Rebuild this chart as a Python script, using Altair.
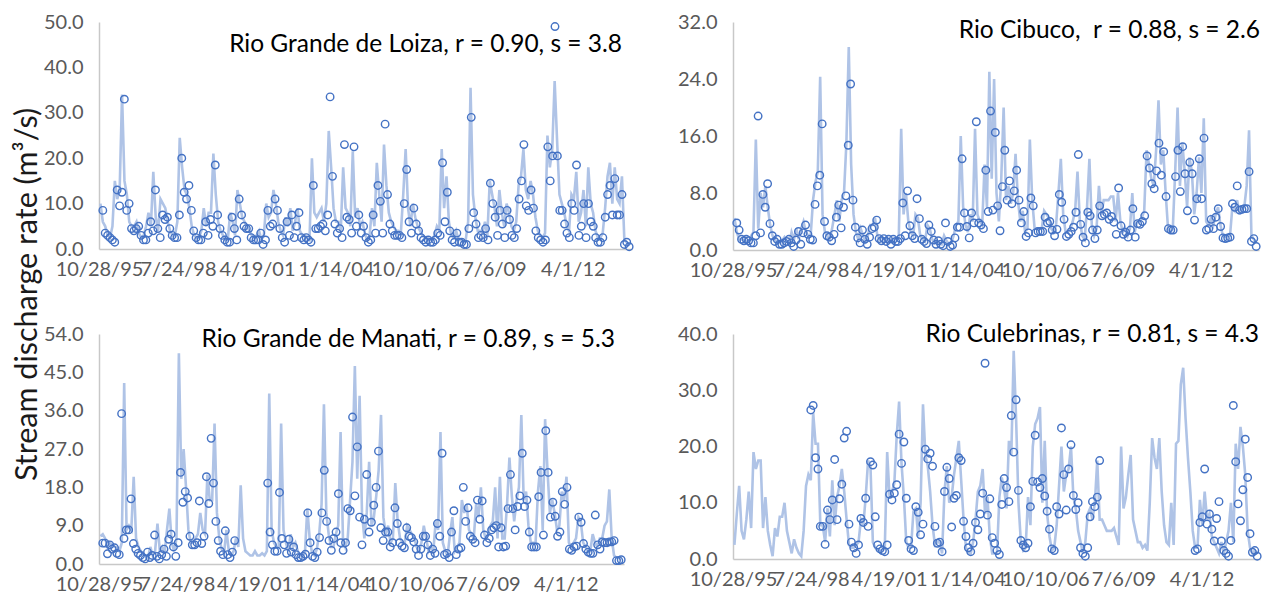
import altair as alt
import pandas as pd

START = "1995-11-15"
END = "2014-03-15"
X_MIN = "1995-10-28"
X_MAX = "2014-04-20"
tick_labels = ["10/28/95", "7/24/98", "4/19/01", "1/14/04", "10/10/06", "7/6/09", "4/1/12"]
y_title = "Stream discharge rate (m³/s)"

titles = [
    "Rio Grande de Loiza, r = 0.90, s = 3.8",
    "Rio Cibuco,\u00a0 r = 0.88, s = 2.6",
    "Rio Grande de Manati, r = 0.89, s = 5.3",
    "Rio Culebrinas, r = 0.81, s = 4.3",
]
y_ticks = [
    [0, 10, 20, 30, 40, 50],
    [0, 8, 16, 24, 32],
    [0, 9, 18, 27, 36, 45, 54],
    [0, 10, 20, 30, 40],
]

loiza_line = [
    10, 6,
    5, 3, 2.5, 5, 15, 11, 13, 34, 15, 12, 6, 5,
    5, 6, 3.5, 2.5, 3, 5, 8, 5, 17, 7, 4, 11,
    10, 9, 6, 4, 3, 3, 6, 24.5, 18, 13, 12, 9,
    5, 3, 2.5, 2.5, 4, 9, 5, 8, 8, 21, 12, 6,
    4, 3, 2, 2, 8, 6, 3, 13, 10, 7, 6, 5,
    4, 3, 2.5, 3, 4, 2, 3, 10, 7, 8, 13, 10,
    6, 4, 3, 7, 5, 9, 4, 6, 9, 4, 3, 3,
    2.5, 2, 20, 8, 7, 8, 9, 6, 10, 26, 18, 9,
    6, 6, 4, 18, 9, 8, 5, 21.5, 7, 9, 5, 6,
    3.5, 2, 3, 9, 5, 19, 12, 6, 23, 14, 8, 6,
    5, 4, 4, 3.5, 12, 22, 9, 5, 10, 7, 5, 4,
    3, 2.5, 2.5, 2, 2, 3, 5, 4, 22, 9, 16, 6,
    3, 2.5, 4, 2, 2, 1.5, 2, 6, 35.5, 12, 7, 4,
    4, 3.5, 6, 3, 15, 12, 9, 5, 13, 8, 5, 10,
    8, 5, 4, 6, 14, 16, 22, 13, 11, 15, 12, 7,
    4, 3, 2.5, 3.5, 25, 18, 22, 37, 24, 12, 10, 8,
    5, 4, 12, 11, 17, 6, 8, 13, 5, 18, 10, 8,
    4, 2.5, 2.5, 3.5, 9, 16, 19, 10, 18, 11, 10, 16,
    2, 1.5, 1,
]
loiza_pts = [
    None, 8.5, 3.5,
    3, 2.5, 2, 1.5, 13, 9.5, 12.5, 33, 8.5, 10, 4.5, 4,
    4.5, 5, 3, 2, 2, 3.5, 6, 4, 13, 4.5, 2.5, 7.5,
    6.5, 7, 4.5, 3, 2.5, 2.5, 7.5, 20, 12.5, 11, 14, 8.5,
    4, 2.5, 2, 2, 3.5, 6, 3, 6.5, 5, 18.5, 7.5, 4.5,
    3, 2, 1.5, 1.5, 7, 4.5, 2, 11, 7.5, 5, 4.5, 4.5,
    2.5, 2, 2, 2, 3.5, 1, 2, 8.5, 5, 5.5, 11, 8.5,
    4.5, 2.5, 1.5, 6, 3, 7.5, 2.5, 5, 8, 2.5, 2, 2.5,
    2, 1.5, 14, 4.5, 4.5, 5, 5.5, 4, 7.5, 33.5, 16, 5.5,
    3.5, 4.5, 2.5, 23, 7, 6.5, 3.5, 22.5, 5, 7.5, 3.5, 5,
    2.5, 1.5, 2, 7.5, 3.5, 14, 10.5, 3.5, 27.5, 12, 5.5, 4,
    3, 3, 3, 2.5, 10, 17.5, 6, 3.5, 9, 5.5, 4, 2.5,
    2, 1.5, 2, 1.5, 1.5, 2, 3.5, 3, 19, 6, 12.5, 4,
    2, 1.5, 3.5, 1.5, 1.5, 1, 1, 4.5, 29, 8, 5.5, 2.5,
    3, 2.5, 4.5, 2, 14.5, 10, 7, 3, 8.5, 5.5, 2.5, 8.5,
    6.5, 3, 2.5, 4.5, 11, 15, 23, 9.5, 8.5, 13, 9, 4,
    2.5, 2, 1.5, 2, 22.5, 15, 20.5, 49, 20.5, 8.5, 8.5, 5.5,
    3.5, 2.5, 10, 8.5, 18.5, 3, 5, 10, 2.5, 10, 6, 5,
    2.5, 1.5, 1.5, 2.5, 7, 12, 14, 7.5, 15.5, 7.5, 7.5, 12,
    1, 1.5, 0.5,
]

cibuco_line = [
    4.5, 2.5,
    1.5, 1.5, 1.3, 1.2, 1.2, 2.0, 2.5, 15.5, 3, 8, 6, 9,
    6, 3.5, 2, 1.5, 1, 1, 1.3, 1.8, 1.2, 0.8, 2.5, 1.5,
    3, 1.5, 3, 4, 2.5, 2, 2, 7, 9.5, 11, 24.3, 5,
    2.5, 2, 1.5, 3, 5, 7, 4, 7, 8, 15, 28.5, 12,
    5, 2.5, 1.5, 3, 2, 1.2, 2, 3.5, 3.5, 4.5, 2, 1.5,
    1.8, 1.5, 1.5, 1.2, 1.5, 1.5, 1.5, 2, 17, 5, 8, 4,
    2.5, 2, 5, 4.5, 2, 1.5, 1.2, 3.5, 3, 1.5, 1, 1.3,
    1, 0.8, 2, 1.3, 0.8, 1, 2, 3.5, 4, 16, 6, 3.5,
    2.5, 5, 4, 17, 5, 4, 3.5, 12, 6, 25, 10, 24,
    8, 4, 10, 20, 7, 9, 6.5, 8, 13.5, 7, 4, 5.5,
    2.5, 3, 15.5, 7, 3, 3, 3, 3, 5.5, 5, 4.5, 3,
    2.5, 3.5, 8, 12.8, 5, 2.5, 2.5, 3, 4, 5.5, 11, 4,
    2, 1.5, 6, 12.8, 3.5, 2, 3, 9, 5, 7, 7, 7,
    7.5, 7.5, 4, 8, 4, 2.5, 3, 2, 3, 8, 2.5, 4,
    4, 4.5, 5.5, 14, 12, 10, 9, 14, 21, 12, 14, 8,
    3, 2.5, 3, 11, 20, 9, 15, 11, 6, 13, 11, 5,
    8, 13, 8, 18.5, 4, 3.5, 4.5, 3.5, 5, 6, 3.5, 2,
    1.8, 2, 2, 6, 5.5, 7, 5, 6, 6, 9, 16.8, 2,
    1.5, 1,
]
cibuco_pts = [
    None, 3.8, 2.8,
    1.5, 1.3, 1.5, 1.3, 1.0, 1.0, 2.0, 18.8, 2.4, 7.8, 6.0, 9.3,
    3.7, 2.0, 1.2, 1.5, 0.8, 0.8, 1.0, 1.2, 1.5, 1.0, 0.5, 1.4,
    2.6, 0.8, 2.4, 3.5, 2.2, 1.5, 1.4, 6.4, 9.0, 10.5, 17.7, 4.0,
    2.0, 1.8, 1.3, 2.2, 4.6, 6.3, 3.1, 6.0, 7.6, 14.7, 23.3, 7.0,
    3.2, 1.7, 1.0, 2.8, 1.5, 0.8, 1.8, 3.0, 3.2, 4.2, 1.6, 1.3,
    1.6, 1.2, 1.5, 0.8, 1.5, 1.2, 1.2, 1.6, 6.6, 2.0, 8.3, 3.4,
    2.0, 1.6, 7.2, 4.4, 1.5, 1.2, 0.9, 3.5, 2.6, 1.4, 0.8, 1.3,
    0.8, 0.6, 3.8, 1.2, 0.5, 0.7, 1.7, 3.2, 3.2, 12.8, 5.2, 3.3,
    1.7, 5.2, 3.8, 18.0, 3.8, 3.5, 3.0, 11.2, 5.4, 19.5, 5.6, 16.5,
    6.2, 2.7, 8.9, 14.0, 7.0, 9.7, 6.5, 8.3, 11.2, 7.0, 3.8, 5.4,
    1.9, 2.4, 7.3, 6.2, 2.4, 2.6, 2.6, 2.6, 4.6, 3.8, 4.0, 2.8,
    2.0, 2.9, 7.8, 6.7, 4.3, 1.9, 2.2, 2.6, 3.2, 5.3, 13.4, 3.6,
    1.8, 1.0, 5.3, 4.8, 2.8, 1.6, 2.8, 6.2, 4.8, 5.0, 5.2, 4.3,
    4.7, 3.9, 2.2, 8.7, 3.4, 2.2, 2.5, 1.8, 2.8, 5.8, 1.8, 3.7,
    3.6, 4.0, 4.8, 13.2, 11.5, 9.3, 8.6, 11.1, 15.0, 10.5, 13.8, 7.5,
    3.0, 2.8, 2.8, 10.3, 14.0, 8.2, 14.5, 10.7, 5.5, 12.3, 10.7, 4.2,
    7.2, 12.8, 7.2, 15.7, 2.8, 3.0, 4.3, 3.0, 4.6, 5.8, 3.3, 1.7,
    1.6, 1.7, 1.8, 6.5, 6.0, 9.0, 5.6, 5.7, 5.8, 5.8, 11.0, 1.2,
    1.6, 0.5,
]

manati_line = [
    6.5, 7,
    6, 4, 5, 4.5, 4, 4, 3, 5, 42.5, 8, 9, 8,
    20.5, 6, 4, 3, 2.5, 2, 1.5, 4, 2, 3, 9.5, 3,
    4, 2.5, 8, 13, 5, 3, 6, 49.5, 20, 27, 18, 8,
    5, 5, 6, 7, 12, 8, 7, 21, 15, 15, 33, 12,
    6, 3.5, 2.5, 8, 3, 2, 3, 6, 4, 18.5, 6, 3,
    2.5, 2, 2, 3, 2, 2, 2.5, 2, 3, 40, 8, 5,
    4, 4, 33, 8, 5, 3, 7, 4, 5, 3, 2, 2,
    2.5, 13, 6, 2.5, 2, 3.5, 7, 14, 37.5, 12, 7, 4,
    4, 7, 9, 31, 6, 4, 6, 15, 24, 46.5, 20, 39.5,
    12, 6, 12, 24, 9, 11, 16, 22, 35, 11, 7, 9,
    5, 6, 19, 10, 6, 5, 5, 9, 8, 7, 6, 4,
    3, 5, 9, 6, 3, 4, 3, 10, 8, 31, 5, 3,
    2, 7, 11, 3, 4, 5, 15, 12, 14, 8, 7, 6,
    14, 11, 18, 8, 6, 7, 9, 10, 18, 6, 20.5, 6,
    6, 14, 25, 16, 10, 15, 18, 35, 15, 17, 9, 5,
    5, 5, 17, 23, 8, 34, 22, 12, 15, 12, 8, 9,
    17, 15, 20.5, 5, 4, 5, 6, 11, 10, 5, 4, 3,
    3, 7, 5, 4, 6, 6, 9, 10, 17.5, 6, 2, 1.5,
    1.5, 1,
]
manati_pts_a = [
    4.9, 4.9, 2.4, 4.5, 3.5, 3.8, 2.5, 2.2, 35.3, 6, 8, 8, 15.3, 4.8, 3.5, 2.5, 2, 1.5, 1.2, 2.8,
    1.5, 2, 6.8, 1.8, 1.2, 2.2, 3.5, 1.8, 5.8, 7, 4, 1.8, 5, 21.5, 14.5, 17, 15.5, 6.5, 4.5, 4.5,
    5, 14.8, 4.8, 6.5, 20.5, 14.2, 29.5, 19, 10, 5.5, 3, 2.2, 7.8, 2.2, 1.5, 2.8, 5.5,
]
manati_pts_b = [
    19, 7.5, 4.5, 3, 3, 16.8, 6, 4.5, 2.5, 5.8, 2.8, 4, 2.2, 1.5, 1.5, 1.8, 2.3, 12, 5, 1.8,
    1.5, 2.8, 6.2, 12, 22, 10, 5.5, 3.2, 6, 7.5, 16.5, 5, 3.2, 5, 13, 12.5, 34.5, 16, 27.5, 11,
    4.5, 10.5, 21, 7.5, 9.8, 13.8, 18, 26.5, 8.5, 5.5, 7.5, 7.5, 4, 5, 13.2, 9.5, 5, 4.2, 3.8, 8.5,
    6.5, 6.2, 5.2, 3.5, 2, 3.5, 6.5, 6.5, 4.5, 2, 3.5, 2.5, 9.5, 6.5, 26, 2.2, 2.5, 1.5, 7.5, 12.5,
    2.2, 3.5, 3.8, 18, 10, 13.2, 6.5, 5.8, 5, 15, 10.5, 14.8, 6.8, 5, 6, 8, 8.5, 9, 4, 8.5,
    4, 4.2, 13, 21, 13, 8, 13.5, 16, 26, 13.5, 15, 7.5, 4, 4, 4, 15.8, 21.5, 6.8, 31.3, 21.5,
    11, 14.5, 11.2, 6.5, 7.5, 17, 14, 18, 3.5, 3.2, 4, 4.2, 11, 9.8, 4.8, 3.5, 2.8, 2.5, 2.5, 11.5,
    4.5, 3.5, 5.2, 5, 5, 5.2, 5.2, 5.5, 0.8, 0.8, 1,
]
manati_pts = [None] + manati_pts_a + [None] * 13 + manati_pts_b

culebrinas_line = [
    2.5, 8,
    13, 5, 3.5, 7, 12, 5.5, 19, 16, 17.5, 17.5, 5.5, 11,
    5, 2.5, 0.5, 5.5, 4, 7.5, 7.5, 10, 5, 3, 1, 3.5,
    2, 1, 0.5, 5, 13, 15, 14, 26, 20.5, 20.5, 6, 6,
    3, 9, 4, 14, 6, 11, 13, 16, 12, 7, 2.5, 2,
    2, 2.5, 3, 7, 6, 11, 17.5, 16.5, 3, 2, 1.5, 1.5,
    1.5, 2, 19, 11, 12, 13.5, 22, 28, 17, 11, 3, 2,
    2, 8.5, 9, 4, 10, 27.5, 18.5, 16.5, 12, 6, 2.5, 3,
    3, 1, 12, 16.5, 10, 11, 15, 18, 21, 14, 7, 2,
    1, 1, 3, 7, 12, 13, 16, 8, 11, 4, 1, 1,
    1, 11, 14.5, 12.5, 9, 21, 18.5, 37, 25, 10, 3, 1.5,
    2, 11, 6, 20, 24, 25, 27, 10, 21, 8, 4, 1.5,
    2, 6, 13, 20, 12, 15, 16, 20, 11, 9, 5, 3,
    1, 3, 8, 9, 7, 10, 17.5, 7, 7, 6, 5, 5,
    5, 5.5, 4, 2.5, 20, 9, 11, 15, 18.5, 7, 5, 3,
    3, 2, 2.5, 1.5, 10, 21.5, 18, 16, 21.5, 12, 6, 3,
    2.5, 10, 2.5, 20.5, 21, 31, 34, 25, 18, 12, 5, 2,
    2, 10.5, 6, 12, 7, 8, 4, 3, 2, 1, 3, 1,
    3, 5, 10, 3, 20.5, 16, 23.5, 20, 15, 5, 2, 1,
    1.5, 1,
]
culebrinas_pts_a = [
    26.5, 27.3, 18, 16, 5.8, 5.8, 2.6, 8.7, 7, 10.5, 17.7, 7, 10.7, 13.3, 21.5, 22.7, 6.2, 3, 2, 1,
    2.5, 7.2, 6.5, 10.8, 5.8, 17.3, 16.7, 7.5, 2.5, 1.8, 1.5, 1.3, 2.5, 11.5, 10.5, 11.7, 13.2, 22.2, 17, 20.8,
    10.8, 3.3, 1.8, 1.5, 9.3, 8.3, 4.3, 6.2, 19.5, 17.8, 18.8, 16.5, 5.8, 2.8, 3, 1.3, 12, 16.3, 14.3, 5.7,
    10.8, 11.3, 18, 17.5, 6.7, 4, 2, 1.3, 2.8, 6.5, 5.2, 8, 11.7, 34.8, 7.8, 10.7, 3.8, 2.8, 1.5, 0.8,
    9.7, 14.3, 12.7, 10.2, 25.5, 19, 28.3, 12.2, 3.3, 2.5, 2, 2.8, 9.3, 13.8, 22, 13.7, 12.7, 14.3, 11.2, 8.5,
    5.3, 1.8, 1.5, 9.3, 8, 23.3, 15, 8.7, 16, 20.3, 11.3, 8.8, 10, 2, 1, 0.5, 2, 7.5, 10.2, 9.3,
    11, 17.5,
]
culebrinas_pts_b = [
    1.5, 1.8, 6.5, 7.5, 16, 6.2, 8, 5.3, 3.2, 7.2, 10.2, 3.2, 1.5, 1, 0.5, 3.3, 27.3, 17.3, 9.8, 6.8,
    12.3, 21.3, 14.5, 4.5, 1.2, 1.5, 0.5,
]
culebrinas_pts = [None] * 32 + culebrinas_pts_a + [None] * 39 + culebrinas_pts_b

LINE_COLOR = "#AFC3E6"
PT_COLOR = "#4472C4"
FONT = "Lato"


def dt(ts):
    ts = pd.Timestamp(ts)
    return alt.DateTime(year=ts.year, month=ts.month, date=ts.day)


x_tick_values = [dt(pd.to_datetime(t, format="%m/%d/%y")) for t in tick_labels]


def panel(idx, line_vals, pt_vals, w, h, tx, ty, with_ytitle=False):
    ymax = y_ticks[idx][-1]
    ld = pd.DataFrame({"date": pd.date_range(START, END, periods=len(line_vals)), "v": line_vals})
    pdf = pd.DataFrame({"date": pd.date_range(START, END, periods=len(pt_vals)), "v": pt_vals}).dropna()
    x = alt.X(
        "date:T",
        scale=alt.Scale(domain=[dt(X_MIN), dt(X_MAX)]),
        axis=alt.Axis(
            values=x_tick_values,
            labelExpr="timeFormat(datum.value, '%-m/%-d/%y')",
            labelOverlap=False,
            labelFlush=False,
            ticks=False,
            grid=False,
            labelPadding=10,
        ),
        title=None,
    )
    yaxis_kw = dict(
        values=y_ticks[idx],
        format=".1f",
        ticks=False,
        grid=False,
        labelPadding=16,
    )
    if with_ytitle:
        yaxis_kw.update(
            title=y_title,
            titleX=-63,
            titleY=-40,
            titleAngle=270,
            titleAlign="center",
            titleBaseline="alphabetic",
            titleFontSize=30.5,
            titleFont=FONT,
            titleFontWeight="normal",
            titleColor="#1a1a1a",
        )
        ytitle = y_title
    else:
        ytitle = None
    y = alt.Y(
        "v:Q",
        scale=alt.Scale(domain=[0, ymax], nice=False, zero=True),
        axis=alt.Axis(**yaxis_kw),
        title=ytitle,
    )
    line = alt.Chart(ld).mark_line(color=LINE_COLOR, strokeWidth=2.6).encode(x=x, y=y)
    pts = alt.Chart(pdf).mark_point(
        shape="circle", filled=False, color=PT_COLOR, size=56, strokeWidth=1.4, opacity=1
    ).encode(x=x, y=y)
    txt = alt.Chart(pd.DataFrame({"t": [titles[idx]]})).mark_text(
        align="right", baseline="middle", font=FONT, fontSize=24.5, color="black"
    ).encode(text="t:N", x=alt.value(tx), y=alt.value(ty))
    return alt.layer(line, pts, txt).properties(width=w, height=h)


tl = panel(0, loiza_line, loiza_pts, 533, 227, 523, 23)
tr = panel(1, cibuco_line, cibuco_pts, 526, 228, 527, 9)
bl = panel(2, manati_line, manati_pts, 525, 230, 516, 6, with_ytitle=True)
br = panel(3, culebrinas_line, culebrinas_pts, 527, 225, 526, 1)

chart = alt.ConcatChart(
    concat=[tl, tr, bl, br],
    columns=2,
    spacing={"row": 82, "column": 101},
    bounds="flush",
    align="all",
    padding={"top": 4, "left": 3, "right": 0, "bottom": 0},
).configure_view(stroke=None).configure_axis(
    labelFont=FONT,
    labelFontSize=20,
    labelColor="#595959",
    domainColor="#C8C8C8",
    domainWidth=1.5,
)

chart.save("out.html", embed_options={"renderer": "svg", "actions": False})
